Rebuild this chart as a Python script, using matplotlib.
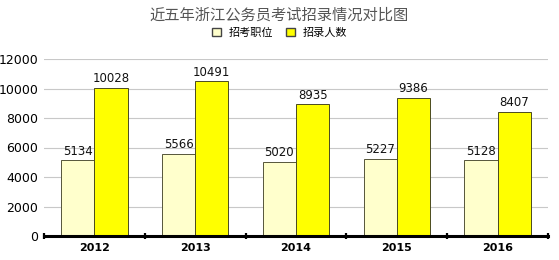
import matplotlib
matplotlib.use('Agg')
import matplotlib.pyplot as plt
import numpy as np
from matplotlib.patches import Patch

plt.rcParams['font.family'] = ['DejaVu Sans', 'Noto Sans CJK SC']

years = ['2012', '2013', '2014', '2015', '2016']
positions = [5134, 5566, 5020, 5227, 5128]
recruits = [10028, 10491, 8935, 9386, 8407]
series_names = ['招考职位', '招录人数']

fig = plt.figure(figsize=(5.59, 2.6), dpi=100)
ax = fig.add_axes([44 / 559, 1 - 236 / 260, 504 / 559, 177 / 260])

x = np.arange(len(years))
w = 0.33
b1 = ax.bar(x - w / 2, positions, w, color='#ffffcc', edgecolor='#55553a', linewidth=0.7, zorder=3)
b2 = ax.bar(x + w / 2, recruits, w, color='#ffff00', edgecolor='#4a4a20', linewidth=0.7, zorder=3)

for bars, vals in ((b1, positions), (b2, recruits)):
    for r, v in zip(bars, vals):
        ax.text(r.get_x() + r.get_width() / 2, v + 180, str(v), ha='center', va='bottom', fontsize=8.5, color='#111')

ax.set_xlim(-0.5, len(years) - 0.5)
ax.set_ylim(0, 12000)
ax.set_yticks(range(0, 12001, 2000))
ax.tick_params(axis='y', length=0, labelsize=9, pad=4)
ax.yaxis.grid(True, color='#c8c8c8', linewidth=0.8, zorder=0)
for s in ['top', 'right', 'left']:
    ax.spines[s].set_visible(False)
ax.spines['bottom'].set_linewidth(2.2)
ax.spines['bottom'].set_zorder(4)

ax.set_xticks(np.arange(-0.5, len(years), 1.0))
ax.set_xticklabels([])
ax.tick_params(axis='x', which='major', length=4, width=1.6, direction='inout')
ax.set_xticks(x, minor=True)
ax.set_xticklabels(years, minor=True, fontweight='bold', fontsize=8)
ax.tick_params(axis='x', which='minor', length=0, pad=5)

fig.text(0.5, 1 - 15 / 260, '近五年浙江公务员考试招录情况对比图', ha='center', va='center',
         fontsize=11, color='#555555', family=['Noto Sans CJK SC'])
handles = [Patch(facecolor='#ffffcc', edgecolor='#444'), Patch(facecolor='#ffff00', edgecolor='#444')]
fig.legend(handles, series_names, loc='center', bbox_to_anchor=(0.5, 1 - 33 / 260), ncol=2, frameon=False,
           prop={'family': 'Noto Sans CJK SC', 'size': 8}, handlelength=0.8, handleheight=0.8,
           columnspacing=1.2, handletextpad=0.7)

fig.savefig('out.png', dpi=100)
